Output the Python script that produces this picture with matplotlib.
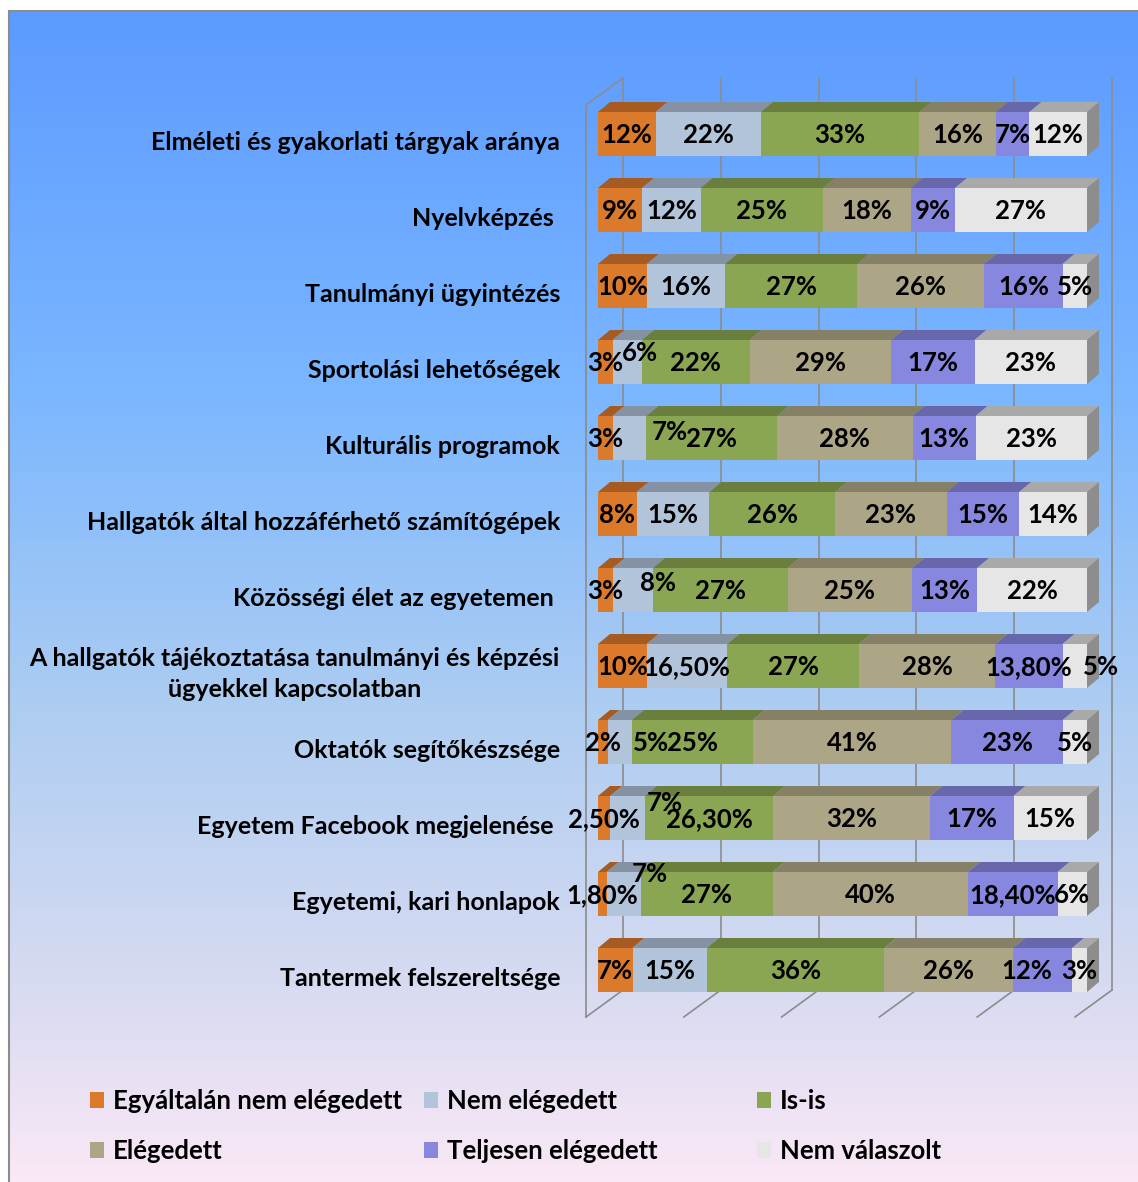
import numpy as np
import matplotlib
matplotlib.use("Agg")
import matplotlib.pyplot as plt
from matplotlib.patches import Polygon
from matplotlib.colors import LinearSegmentedColormap
from matplotlib.transforms import offset_copy

# ---------------- data ----------------
categories = [
    "Elméleti és gyakorlati tárgyak aránya",
    "Nyelvképzés ",
    "Tanulmányi ügyintézés",
    "Sportolási lehetőségek",
    "Kulturális programok",
    "Hallgatók által hozzáférhető számítógépek",
    "Közösségi élet az egyetemen ",
    "A hallgatók tájékoztatása tanulmányi és képzési\nügyekkel kapcsolatban",
    "Oktatók segítőkészsége",
    "Egyetem Facebook megjelenése ",
    "Egyetemi, kari honlapok",
    "Tantermek felszereltsége",
]
series_names = ["Egyáltalán nem elégedett", "Nem elégedett", "Is-is",
                "Elégedett", "Teljesen elégedett", "Nem válaszolt"]
egyaltalan_nem = [12, 9, 10, 3, 3, 8, 3, 10, 2, 2.5, 1.8, 7]
nem_elegedett = [22, 12, 16, 6, 7, 15, 8, 16.5, 5, 7, 7, 15]
is_is = [33, 25, 27, 22, 27, 26, 27, 27, 25, 26.3, 27, 36]
elegedett = [16, 18, 26, 29, 28, 23, 25, 28, 41, 32, 40, 26]
teljesen = [7, 9, 16, 17, 13, 15, 13, 13.8, 23, 17, 18.4, 12]
nem_valaszolt = [12, 27, 5, 23, 23, 14, 22, 5, 5, 15, 6, 3]

# ---------------- style ----------------
front_colors = ["#DC7A2B", "#B1C4DA", "#8AA652", "#ADA686", "#8787E0", "#E6E6E6"]
top_colors = ["#A65B22", "#8592A3", "#6A7F3D", "#858066", "#6767AA", "#A9A9A9"]
side_color = "#8D8D8D"
grid_color = "#8C8C8C"
FONT = ["Lato", "DejaVu Sans"]

# manual label displacements (pixels, x right / y up) as in the original
label_shift = {
    (3, 1): (13, 10),
    (4, 1): (40, 7),
    (6, 1): (25, 8),
    (7, 5): (26, 0),
    (8, 1): (31, 0),
    (9, 1): (37, 16),
    (10, 1): (26, 21),
    (11, 4): (-16, 0),
}

W, H = 1138, 1182
fig = plt.figure(figsize=(W / 100, H / 100), dpi=100)

# background gradient with border
bg = fig.add_axes([0, 0, 1, 1], zorder=-10)
bg.set_xlim(0, W)
bg.set_ylim(H, 0)
bg.axis("off")
cmap = LinearSegmentedColormap.from_list(
    "bg", [(0.0, "#5C9BFF"), (0.33, "#7CB7FF"), (0.6, "#AECDF1"),
           (0.85, "#DADCF1"), (1.0, "#FAE8F6")])
grad = np.linspace(0, 1, 256).reshape(-1, 1)
bg.imshow(grad, cmap=cmap, extent=(9, W + 5, H, 11), aspect="auto",
          interpolation="bicubic")
bg.plot([9, 9], [H, 11], color="#8C8C8C", lw=1.5)
bg.plot([9, W], [11, 11], color="#8C8C8C", lw=1.5)

# main axes (front plane of the bars)
x0_px, x1_px = 598, 1087
yc0, pitch = 134, 76
ytop_px = yc0 - 0.5 * pitch
ybot_px = yc0 + 11.5 * pitch
ax = fig.add_axes([x0_px / W, 1 - ybot_px / H, (x1_px - x0_px) / W,
                   (ybot_px - ytop_px) / H])
n = len(categories)
ax.set_xlim(0, 100)
ax.set_ylim(n - 0.5, -0.5)
ax.axis("off")

data = np.array([egyaltalan_nem, nem_elegedett, is_is, elegedett,
                 teljesen, nem_valaszolt], dtype=float)
totals = data.sum(axis=0)
norm = data / totals * 100
lefts = np.vstack([np.zeros(n), np.cumsum(norm, axis=0)[:-1]])
ypos = np.arange(n)


def shift(pts, dx, dy):
    disp = ax.transData.transform(np.asarray(pts, dtype=float))
    disp = disp + np.array([dx, dy])
    return ax.transData.inverted().transform(disp)


# walls: front plane offset and back plane offset (pixels)
FRONT = (-12, -9)
BACK = (25, 18)
BAR_DEPTH = (12, 10)
lw_grid = 1.2
for xv in range(0, 101, 20):
    p = shift([(xv, -0.5), (xv, n - 0.5)], *BACK)
    ax.plot(p[:, 0], p[:, 1], color=grid_color, lw=lw_grid, zorder=1, clip_on=False)
    q = np.vstack([shift([(xv, n - 0.5)], *FRONT), shift([(xv, n - 0.5)], *BACK)])
    ax.plot(q[:, 0], q[:, 1], color=grid_color, lw=lw_grid, zorder=1, clip_on=False)
lw_pts = np.vstack([shift([(0, n - 0.5)], *FRONT), shift([(0, -0.5)], *FRONT),
                    shift([(0, -0.5)], *BACK)])
ax.plot(lw_pts[:, 0], lw_pts[:, 1], color=grid_color, lw=lw_grid, zorder=1,
        clip_on=False)

bar_h = 44 / 76
containers = []
for s in range(6):
    cont = ax.barh(ypos, norm[s], left=lefts[s], height=bar_h,
                   color=front_colors[s], zorder=3, label=series_names[s],
                   linewidth=0)
    containers.append(cont)
    for i in range(n):
        l, w = lefts[s, i], norm[s, i]
        yt = i - bar_h / 2
        yb = i + bar_h / 2
        back = shift([(l + w, yt), (l, yt)], *BAR_DEPTH)
        poly = np.vstack([[(l, yt), (l + w, yt)], back])
        ax.add_patch(Polygon(poly, closed=True, facecolor=top_colors[s],
                             edgecolor="none", zorder=3, clip_on=False))
        if s == 5:
            sb = shift([(100, yb), (100, yt)], *BAR_DEPTH)
            side = np.vstack([[(100, yt), (100, yb)], sb])
            ax.add_patch(Polygon(side, closed=True, facecolor=side_color,
                                 edgecolor="none", zorder=3, clip_on=False))


def fmt(v):
    if float(v).is_integer():
        return f"{int(v)}%"
    return f"{v:.2f}".replace(".", ",") + "%"


for s in range(6):
    for i in range(n):
        dx, dy = label_shift.get((i, s), (0, 0))
        tr = offset_copy(ax.transData, fig=fig, x=dx, y=dy - 1, units="dots")
        ax.text(lefts[s, i] + norm[s, i] / 2, i, fmt(data[s, i]), transform=tr,
                ha="center", va="center", fontsize=18.5, fontweight="bold",
                family=FONT, color="black", zorder=6, clip_on=False)

# category labels
cat_tr = offset_copy(ax.transData, fig=fig, x=-38, y=-8, units="dots")
for i, c in enumerate(categories):
    ax.text(0, i, c, transform=cat_tr, ha="right", va="center",
            multialignment="center", fontsize=18, fontweight="bold",
            family=FONT, color="black", linespacing=1.45, clip_on=False)

# legend: 3 columns x 2 rows
leg_cols = [90, 424, 757]
leg_rows = [1101, 1151]
for s, cont in enumerate(containers):
    cx = leg_cols[s % 3]
    cy = leg_rows[s // 3]
    fig.legend([cont], [series_names[s]], loc="center left",
               bbox_to_anchor=(cx / W, 1 - cy / H), frameon=False,
               prop={"family": FONT, "weight": "bold", "size": 18.5},
               handlelength=0.55, handleheight=0.6, handletextpad=0.35,
               borderpad=0, borderaxespad=0)

fig.savefig("out.png", dpi=100)
